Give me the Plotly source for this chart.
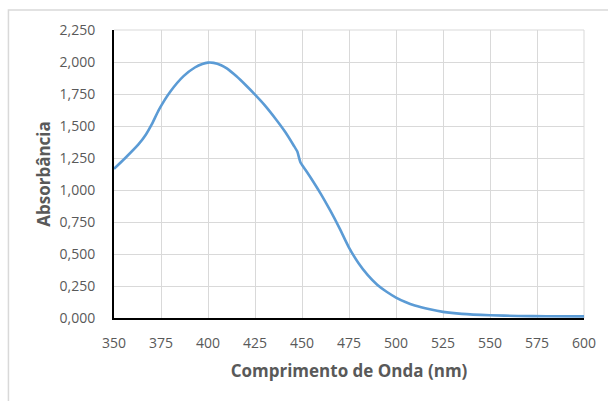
import plotly.graph_objects as go

wavelength = [350, 356, 363, 367, 370, 374, 380, 387, 393, 397, 400, 403, 407, 410, 415, 420, 425, 430,
              436, 441, 445.5, 447.5, 449.2, 452, 456, 460, 465, 470, 475, 480, 485,
              490, 495, 500, 505, 510, 518, 525, 535, 550, 565, 580, 600]
absorbance = [1.165, 1.25, 1.356, 1.434, 1.51, 1.63, 1.77, 1.89, 1.957, 1.985, 1.995, 1.993, 1.975, 1.95, 1.89, 1.82, 1.745, 1.665,
              1.555, 1.455, 1.35, 1.30, 1.215, 1.155, 1.065, 0.97, 0.84, 0.70, 0.55, 0.43, 0.335,
              0.26, 0.205, 0.16, 0.125, 0.098, 0.068, 0.048, 0.032, 0.021, 0.016, 0.014, 0.013]

x_ticks = [350, 375, 400, 425, 450, 475, 500, 525, 550, 575, 600]
y_ticks = [0, 0.25, 0.5, 0.75, 1.0, 1.25, 1.5, 1.75, 2.0, 2.25]

fig = go.Figure()
fig.add_trace(go.Scatter(x=wavelength, y=absorbance, mode="lines",
                         line=dict(color="#5b9bd5", width=2.6, shape="spline", smoothing=0.6),
                         showlegend=False, hoverinfo="skip"))

font_family = "Open Sans, Liberation Sans, sans-serif"
fig.update_layout(
    width=608, height=401,
    margin=dict(l=114, r=22, t=30, b=83),
    paper_bgcolor="white", plot_bgcolor="white",
    separators=",.",
    font=dict(family=font_family, color="#595959", size=14),
    xaxis=dict(range=[350, 600], tickvals=x_ticks, ticks="", showgrid=True,
               gridcolor="#d9d9d9", gridwidth=1, showline=True, linecolor="black",
               linewidth=2, zeroline=False, ticklabelstandoff=11,
               title=dict(text="<b>Comprimento de Onda (nm)</b>", font=dict(size=17, color="#595959"),
                          standoff=14),
               tickfont=dict(size=14, color="#595959")),
    yaxis=dict(range=[0, 2.25], tickvals=y_ticks, tickformat=".3f", ticks="", showgrid=True,
               gridcolor="#d9d9d9", gridwidth=1, showline=True, linecolor="black",
               linewidth=2, zeroline=False, ticklabelstandoff=14,
               title=dict(text="<b>Absorbância</b>", font=dict(size=17, color="#595959"),
                          standoff=5),
               tickfont=dict(size=14, color="#595959")),
    shapes=[
        dict(type="rect", xref="paper", yref="paper", x0=-0.2246, x1=1.06, y0=-0.31, y1=1.0694,
             line=dict(color="#d9d9d9", width=1.5), fillcolor="rgba(0,0,0,0)", layer="below"),
        dict(type="line", xref="paper", yref="paper", x0=0, x1=1, y0=1, y1=1,
             line=dict(color="#d9d9d9", width=1), layer="below"),
        dict(type="line", xref="paper", yref="paper", x0=1, x1=1, y0=0, y1=1,
             line=dict(color="#d9d9d9", width=1), layer="below"),
    ],
)

fig.write_html("out.html", config={"displayModeBar": False},
               post_script="document.body.style.margin='0';")
